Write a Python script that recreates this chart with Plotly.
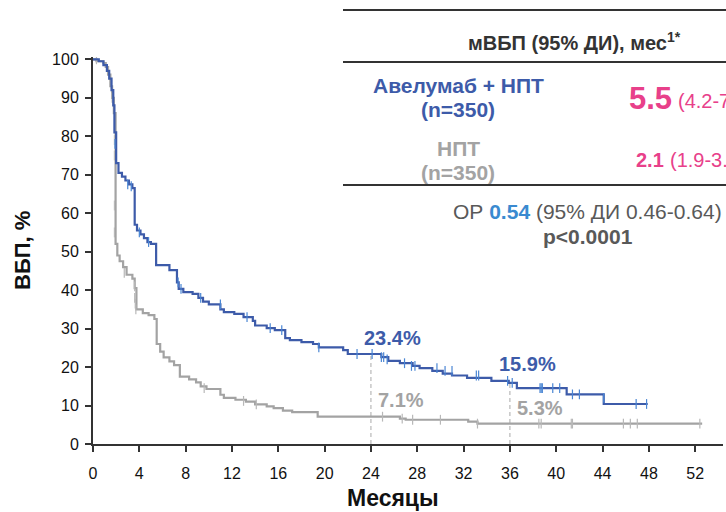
import plotly.graph_objects as go

# ---------------- data ----------------
ave_t = [0, 0.5, 0.9, 1.2, 1.4, 1.6, 1.75, 1.85, 2.0, 2.2, 2.5, 2.8, 3.1, 3.4, 3.6, 3.8, 4.1, 4.4,
         4.7, 5.0, 5.45, 6.6, 7.25, 7.4, 7.8, 8.6, 9.1, 9.5, 10.0, 11.0, 11.3, 12.2, 13.0, 13.8,
         14.0, 15.0, 15.7, 16.6, 17.0, 18.0, 19.0, 19.5, 21.6, 22.0, 24.9, 25.5, 26.5, 27.6, 28.2,
         29.3, 30.2, 31.0, 32.3, 34.4, 35.9, 36.6, 40.9, 44.1, 47.9]
ave_s = [100, 99.5, 98.5, 97, 95, 92, 88, 81, 73, 70.5, 69.5, 68.5, 67.5, 66.5, 57, 55.5, 54.5, 53.5,
         52.5, 52, 46.5, 45.2, 42, 40.3, 39.5, 39, 38, 37, 36.3, 35, 34.3, 33.8, 33, 32,
         30.8, 30.1, 29.6, 27.5, 27, 26.5, 26, 25.1, 24.4, 23.4, 22.6, 21.6, 21.0, 20.3, 19.7,
         19.0, 18.3, 17.8, 17.2, 16.4, 15.9, 14.5, 12.9, 10.4, 10.4]

npt_t = [0, 0.3, 0.9, 1.1, 1.3, 1.5, 1.65, 1.8, 1.95, 2.1, 2.3, 2.6, 2.9, 3.4, 3.6, 3.75, 4.3, 4.8,
         5.3, 5.5, 5.8, 6.1, 6.6, 7.0, 7.5, 8.3, 8.9, 9.3, 9.8, 11.0, 11.3, 12.3, 13.2, 14.0, 15.0,
         15.6, 16.4, 17.2, 19.4, 26.5, 27.0, 32.4, 33.2, 52.6]
npt_s = [100, 99.5, 99, 98, 96, 93, 90, 86, 52, 49, 47.5, 46, 44, 43, 40.5, 35, 34, 33.5,
         32.5, 26, 24, 22.5, 21.5, 20.5, 17.5, 16.8, 16, 15, 14.3, 12.8, 12, 11.5, 11, 10.3, 9.8,
         9.3, 8.7, 8.3, 7.1, 6.6, 6.3, 5.8, 5.3, 5.3]

ave_cens_t = [1.9, 3.0, 3.3, 4.0, 4.8, 7.35, 7.6, 9.3, 11.0, 13.3, 15.3, 16.3, 19.5, 22.8, 24.1,
              24.9, 25.1, 25.4, 26.9, 27.5, 27.8, 29.7, 30.4, 31.0, 33.1, 33.3, 35.8, 36.2,
              38.6, 38.7, 38.8, 39.7, 40.3, 41.4, 42.0, 44.1, 46.9, 47.8]
ave_cens_s = [78, 67.5, 67, 55, 52.5, 42, 40.3, 38, 36.3, 33, 30.1, 29.6, 25.1, 23.4, 23.4,
              22.6, 22.6, 22.0, 21.0, 20.3, 20.3, 19.7, 19.0, 19.0, 17.8, 17.8, 16.4, 15.9,
              14.5, 14.5, 14.5, 14.5, 14.5, 12.9, 12.9, 12.0, 10.4, 10.4]

npt_cens_t = [0.3, 1.65, 1.85, 1.85, 1.85, 1.85, 2.7, 3.6, 3.6, 3.65, 3.7, 9.6, 13.0, 14.1,
              25.0, 26.7, 27.6, 30.0, 33.2, 38.5, 38.7, 41.3, 41.4, 45.8, 46.4, 47.0, 52.4]
npt_cens_s = [100, 90, 79, 75, 62, 55, 44.5, 41, 38, 36.5, 35, 14.5, 11.2, 10.3,
              7.1, 6.6, 6.3, 6.3, 5.3, 5.3, 5.3, 5.3, 5.3, 5.3, 5.3, 5.3, 5.3]

landmark_t = [24, 36]
landmark_ave = [23.4, 15.9]
landmark_npt = [7.1, 5.3]

x_ticks = list(range(0, 53, 4))
y_ticks = list(range(0, 101, 10))

# ---------------- style ----------------
BLUE = "#3D5BA9"
BLUE_C = "#4A86D4"
GRAY = "#A3A3A3"
GRAY_C = "#B8B8B8"
PINK = "#E8408A"
FONT = "Liberation Sans, Arial, sans-serif"

fig = go.Figure()

# landmark dashed lines
for t, s in zip(landmark_t, landmark_ave):
    fig.add_trace(go.Scatter(x=[t, t], y=[0, s], mode="lines",
                             line=dict(color="#AAAAAA", width=1, dash="4px,3px"),
                             hoverinfo="skip", showlegend=False))

fig.add_trace(go.Scatter(x=npt_t, y=npt_s, mode="lines", line_shape="hv",
                         line=dict(color=GRAY, width=2.2), showlegend=False))
fig.add_trace(go.Scatter(x=npt_cens_t, y=npt_cens_s, mode="markers",
                         marker=dict(symbol="line-ns", size=7, line=dict(color=GRAY_C, width=1.2)),
                         showlegend=False))
fig.add_trace(go.Scatter(x=ave_t, y=ave_s, mode="lines", line_shape="hv",
                         line=dict(color=BLUE, width=2.2), showlegend=False))
fig.add_trace(go.Scatter(x=ave_cens_t, y=ave_cens_s, mode="markers",
                         marker=dict(symbol="line-ns", size=7, line=dict(color=BLUE_C, width=1.2)),
                         showlegend=False))

# landmark labels
ann = []
ann.append(dict(x=25.9, y=27.6, xref="x", yref="y", text="<b>23.4%</b>", showarrow=False,
                font=dict(size=20, color=BLUE, family=FONT)))
ann.append(dict(x=37.5, y=20.9, xref="x", yref="y", text="<b>15.9%</b>", showarrow=False,
                font=dict(size=20, color=BLUE, family=FONT)))
ann.append(dict(x=26.6, y=11.4, xref="x", yref="y", text="<b>7.1%</b>", showarrow=False,
                font=dict(size=20, color=GRAY, family=FONT)))
ann.append(dict(x=38.6, y=9.3, xref="x", yref="y", text="<b>5.3%</b>", showarrow=False,
                font=dict(size=20, color=GRAY, family=FONT)))

# pixel -> paper helpers
L, R, T, B = 93, 723, 57, 444
def px(x):
    return (x - L) / (R - L)
def py(y):
    return (B - y) / (B - T)

def txt(x, y, text, size, color, xanchor="center"):
    ann.append(dict(x=px(x), y=py(y), xref="paper", yref="paper", text=text, showarrow=False,
                    xanchor=xanchor, yanchor="middle", font=dict(size=size, color=color, family=FONT)))

# axis titles
txt(393, 498, "<b>Месяцы</b>", 23, "#111111")
ann.append(dict(x=px(23), y=py(251), xref="paper", yref="paper", text="<b>ВБП, %</b>",
                xanchor="center", yanchor="middle",
                showarrow=False, textangle=-90, font=dict(size=22, color="#111111", family=FONT)))

# table
txt(574, 42, "<b>мВБП (95% ДИ), мес<sup>1*</sup></b>", 20, "#333333")
txt(458, 85, "<b>Авелумаб + НПТ</b>", 21, BLUE)
txt(458, 109, "<b>(n=350)</b>", 21, BLUE)
txt(627, 99, "<b>5.5</b>", 31, PINK, xanchor="left")
txt(676, 101, "(4.2-7.2)", 20, PINK, xanchor="left")
txt(458, 148, "<b>НПТ</b>", 21, GRAY)
txt(458, 172, "<b>(n=350)</b>", 21, GRAY)
txt(634, 160, "<b>2.1</b>", 20, PINK, xanchor="left")
txt(668, 160, "(1.9-3.0)", 20, PINK, xanchor="left")
txt(451, 211, "ОР <b><span style='color:#3A8AD0'>0.54</span></b> (95% ДИ 0.46-0.64)", 21, "#595959",
    xanchor="left")
txt(588, 236, "<b>p&lt;0.0001</b>", 21, "#595959")

shapes = []
for yy in [10, 62, 185]:
    shapes.append(dict(type="line", xref="paper", yref="paper", x0=px(343), x1=px(740),
                       y0=py(yy), y1=py(yy), line=dict(color="#333333", width=2)))

fig.update_layout(
    width=726, height=512,
    margin=dict(l=L, r=726 - R, t=T, b=512 - B),
    paper_bgcolor="white", plot_bgcolor="white",
    font=dict(family=FONT, color="#111111"),
    annotations=ann, shapes=shapes,
    xaxis=dict(range=[0, 54.4], tickvals=x_ticks, ticks="outside", ticklen=6, tickwidth=1.5,
               tickcolor="#333333", showline=True, linecolor="#333333", linewidth=2,
               ticklabelstandoff=8,
               showgrid=False, zeroline=False, tickfont=dict(size=16, color="#111111")),
    yaxis=dict(range=[0, 100.6], tickvals=y_ticks, ticks="outside", ticklen=6, tickwidth=1.5,
               tickcolor="#333333", showline=True, linecolor="#333333", linewidth=2,
               ticklabelstandoff=3,
               showgrid=False, zeroline=False, tickfont=dict(size=16, color="#111111")),
    hovermode=False,
)

fig.write_html("out.html", config={"displayModeBar": False},
               post_script="document.body.style.margin='0';document.body.style.overflow='hidden';")
